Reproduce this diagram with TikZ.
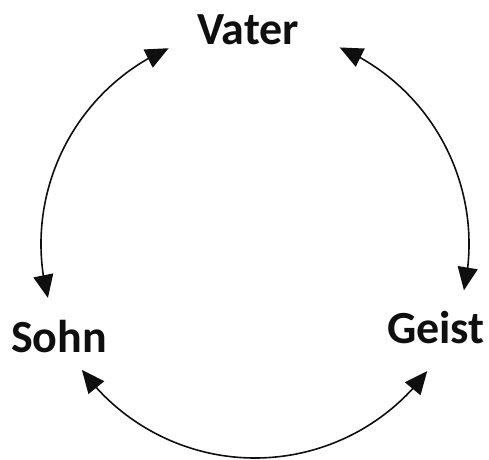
\documentclass[tikz,border=0pt]{standalone}
\usepackage{fontspec}
\setmainfont{Carlito}
\usetikzlibrary{arrows.meta, bending, calc}
\definecolor{inkblack}{RGB}{15, 15, 15}

\begin{document}
\begin{tikzpicture}[x=1pt, y=1pt,
        person/.style={font=\bfseries\fontsize{46}{50}\selectfont, text=inkblack, inner sep=0pt},
        pfeil/.style={draw=inkblack, line width=1.6pt, {Triangle[length=23pt, width=20pt, flex]}-{Triangle[length=23pt, width=20pt, flex]}}]
    \useasboundingbox (0,0) rectangle (489,459);
    \coordinate (ctr) at (255,215);
    \node[person] (vater) at (248,429) {Vater};
    \node[person] (sohn) at (59,122) {Sohn};
    \node[person] (geist) at (436,131) {Geist};
    \draw[pfeil] ([shift={(194.6:214)}]ctr) arc[start angle=194.6, end angle=113.8, radius=214];
    \draw[pfeil] ([shift={(66.7:214)}]ctr) arc[start angle=66.7, end angle=-12.5, radius=214];
    \draw[pfeil] ([shift={(216:214)}]ctr) arc[start angle=216, end angle=323.6, radius=214];
\end{tikzpicture}
\end{document}
